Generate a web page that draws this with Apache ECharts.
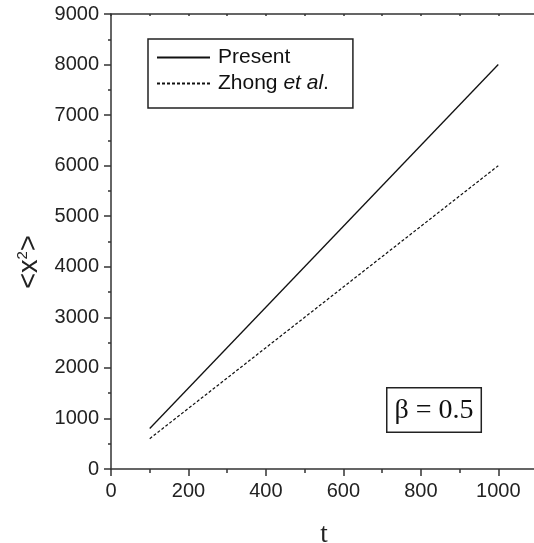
<!DOCTYPE html>
<html>
<head>
<meta charset="utf-8">
<script src="https://cdn.jsdelivr.net/npm/echarts@6/dist/echarts.min.js"></script>
<style>html,body{margin:0;padding:0;background:#fff}#c{width:534px;height:543px}</style>
</head>
<body>
<div id="c"></div>
<script>
var tValues = [100, 1000];
var presentValues = [800, 8000];
var zhongValues = [600, 6000];
var xTickLabels = ['0', '200', '400', '600', '800', '1000'];
var yTickLabels = ['0', '1000', '2000', '3000', '4000', '5000', '6000', '7000', '8000', '9000'];
var seriesNames = ['Present', 'Zhong et al.'];

function pairs(xs, ys) { return xs.map(function (x, i) { return [x, ys[i]]; }); }

var chart = echarts.init(document.getElementById('c'), null, { renderer: 'canvas' });
var axisColor = '#333';
var sans = 'Liberation Sans, Arial, Helvetica, sans-serif';
var labelFont = { fontFamily: sans, fontSize: 20, color: '#222' };

chart.setOption({
  animation: false,
  backgroundColor: '#fff',
  grid: { left: 111, top: 14, width: 426, height: 455, containLabel: false, outerBoundsMode: 'none' },
  legend: {
    orient: 'vertical',
    left: 148, top: 39,
    padding: [8, 24, 14, 8],
    itemGap: 5,
    itemWidth: 53,
    itemHeight: 14,
    borderColor: '#222',
    borderWidth: 1.5,
    borderRadius: 0,
    itemStyle: { opacity: 0 },
    data: seriesNames,
    formatter: function (n) {
      if (n === 'Zhong et al.') return '{n|Zhong }{i|et al}{n|.}';
      return '{n|' + n + '}';
    },
    textStyle: {
      padding: [0, 0, 0, 3],
      rich: {
        n: { fontFamily: sans, fontSize: 21, color: '#111', lineHeight: 21 },
        i: { fontFamily: sans, fontSize: 21, fontStyle: 'italic', color: '#111', lineHeight: 21 }
      }
    }
  },
  xAxis: [
    {
      type: 'value', position: 'bottom', min: 0, max: 1100, interval: 200,
      name: 't', nameLocation: 'middle', nameGap: 52,
      nameTextStyle: { fontFamily: 'Liberation Serif, Times New Roman, serif', fontSize: 27, color: '#222' },
      axisLine: { show: true, onZero: false, lineStyle: { color: axisColor, width: 1.5 } },
      axisTick: { show: true, inside: false, length: 7, lineStyle: { color: axisColor, width: 1.5 } },
      minorTick: { show: false },
      splitLine: { show: false },
      axisLabel: Object.assign({ margin: 12, formatter: function (v) { var s = String(v); return xTickLabels.indexOf(s) >= 0 ? s : ''; } }, labelFont)
    },
    {
      type: 'value', position: 'bottom', min: 0, max: 1100, interval: 100,
      axisLine: { show: false, onZero: false },
      axisTick: { show: true, inside: false, length: 4, lineStyle: { color: axisColor, width: 1.5 } },
      splitLine: { show: false },
      axisLabel: { show: false }
    },
    {
      type: 'value', position: 'top', min: 0, max: 1100, interval: 100,
      axisLine: { show: true, onZero: false, lineStyle: { color: axisColor, width: 1.5 } },
      axisTick: { show: true, inside: true, length: 2, lineStyle: { color: axisColor, width: 1.5 } },
      splitLine: { show: false },
      axisLabel: { show: false }
    }
  ],
  yAxis: [
    {
      type: 'value', min: 0, max: 9000, interval: 1000,
      name: '<x{s|2}>', nameLocation: 'middle', nameGap: 66, nameRotate: 90,
      nameTextStyle: {
        fontFamily: sans, fontSize: 27, color: '#222',
        padding: [0, 41, 0, 0],
        rich: { s: { fontFamily: sans, fontSize: 15, color: '#222', verticalAlign: 'bottom', padding: [0, 0, 15, 0] } }
      },
      axisLine: { show: true, onZero: false, lineStyle: { color: axisColor, width: 1.5 } },
      axisTick: { show: true, inside: false, length: 7, lineStyle: { color: axisColor, width: 1.5 } },
      minorTick: { show: true, splitNumber: 2, length: 3, lineStyle: { color: axisColor, width: 1.5 } },
      splitLine: { show: false },
      axisLabel: Object.assign({ margin: 12, formatter: function (v) { var s = String(v); return yTickLabels.indexOf(s) >= 0 ? s : ''; } }, labelFont)
    }
  ],
  series: [
    {
      name: seriesNames[0], type: 'line', xAxisIndex: 0, yAxisIndex: 0,
      data: pairs(tValues, presentValues), symbol: 'none', showSymbol: false,
      lineStyle: { color: '#111', width: 1.3, type: 'solid' }, itemStyle: { color: '#111' }
    },
    {
      name: seriesNames[1], type: 'line', xAxisIndex: 0, yAxisIndex: 0,
      data: pairs(tValues, zhongValues), symbol: 'none', showSymbol: false,
      lineStyle: { color: '#111', width: 1.2, type: [3, 2] }, itemStyle: { color: '#111' }
    }
  ],
  graphic: [
    {
      type: 'text', left: 386, top: 387, z: 100,
      style: {
        text: 'β = 0.5',
        font: '28px "Liberation Serif", "Times New Roman", serif',
        fill: '#111',
        padding: [8, 7, 7, 7],
        borderColor: '#222', borderWidth: 1.5,
        backgroundColor: '#fff'
      }
    }
  ]
});
</script>
</body>
</html>
